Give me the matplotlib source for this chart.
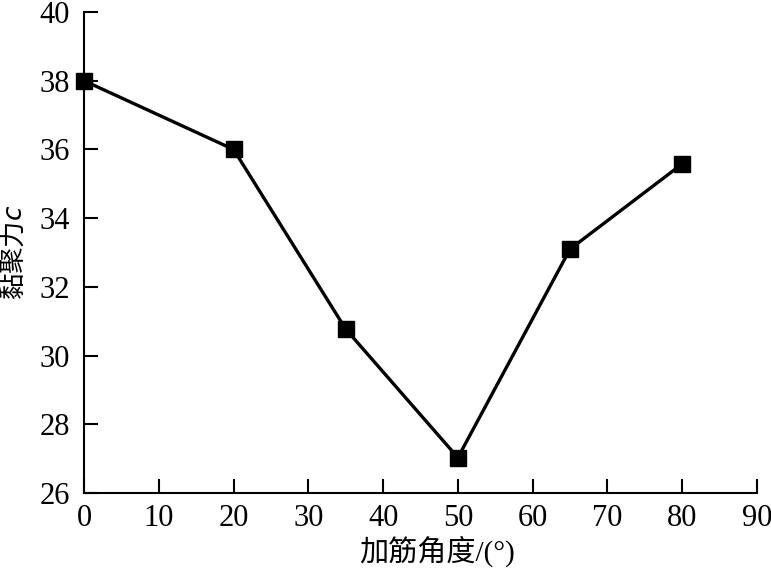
import matplotlib
matplotlib.use("Agg")
import matplotlib.pyplot as plt

angles = [0, 20, 35, 50, 65, 80]
cohesion = [38.0, 36.0, 30.77, 27.03, 33.1, 35.58]
xticks = [0, 10, 20, 30, 40, 50, 60, 70, 80, 90]
yticks = [26, 28, 30, 32, 34, 36, 38, 40]
xlabel = '加筋角度/(°)'
ylabel = '黏聚力$c$'

plt.rcParams['font.family'] = ['Liberation Serif', 'Noto Sans CJK SC']
plt.rcParams['mathtext.fontset'] = 'custom'
plt.rcParams['mathtext.it'] = 'DejaVu Sans:italic'
plt.rcParams['mathtext.rm'] = 'Liberation Serif'

fig = plt.figure(figsize=(7.71, 5.69), dpi=100)
ax = fig.add_axes([84/771, 1-493/569, (757-84)/771, (493-12)/569])

ax.plot(angles, cohesion, color='black', lw=2.4, marker='s', markersize=11,
        clip_on=False, zorder=3)

ax.set_xlim(0, 90)
ax.set_ylim(26, 40)
ax.set_xticks(xticks)
ax.set_yticks(yticks)
ax.spines['top'].set_visible(False)
ax.spines['right'].set_visible(False)
for s in ['left', 'bottom']:
    ax.spines[s].set_linewidth(1.5)
ax.tick_params(direction='in', length=10, width=1.5, labelsize=22)
ax.tick_params(axis='y', pad=10)
ax.tick_params(axis='x', pad=8)

fig.text(437/771, 1-551/569, xlabel, fontsize=21, ha='center', va='center')
fig.text(13/771, 1-252/569, ylabel, fontsize=19, ha='center', va='center',
         rotation=90, family=['Noto Sans CJK SC'])

fig.savefig('out.png', dpi=100)
